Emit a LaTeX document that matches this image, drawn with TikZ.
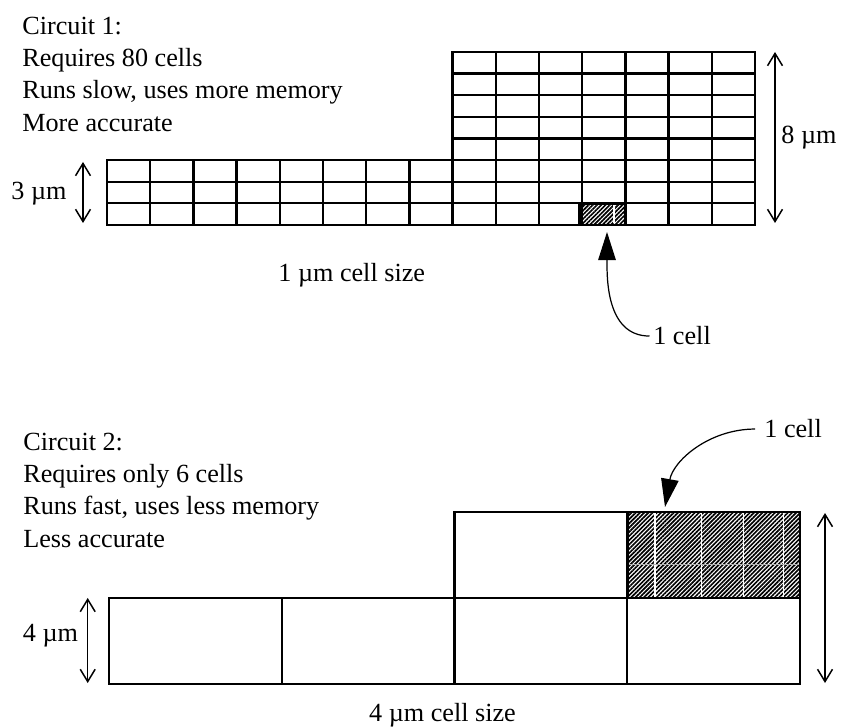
\documentclass[tikz,border=0pt]{standalone}
\usepackage{fontspec}
\setmainfont{Liberation Serif}
\usetikzlibrary{arrows.meta,patterns.meta}

\begin{document}
\begin{tikzpicture}[x=0.02cm,y=0.02cm,
    every node/.style={font=\fontsize{14.9}{18.3}\selectfont,inner sep=0pt},
    gridline/.style={line width=1.3pt,line cap=rect},
    hatched/.style={pattern={Lines[angle=45,distance=1.7pt,line width=0.95pt]}},
    dim/.style={{Straight Barb[length=7pt,width=8.5pt]}-{Straight Barb[length=7pt,width=8.5pt]},line width=0.85pt},
    callout/.style={-{Triangle[length=16pt,width=10pt]},line width=0.7pt}]
  \useasboundingbox (0,0) rectangle (844,726);

  % circuit 1: fine cells, 43.2 x 21.65
  \foreach \r in {0,...,3} {\draw[gridline] (107,501+\r*21.65) -- (755,501+\r*21.65);}
  \foreach \r in {4,...,8} {\draw[gridline] (452.6,501+\r*21.65) -- (755,501+\r*21.65);}
  \foreach \c in {0,...,7} {\draw[gridline] (107+\c*43.2,501) -- (107+\c*43.2,566);}
  \foreach \c in {8,...,15} {\draw[gridline] (107+\c*43.2,501) -- (107+\c*43.2,674.2);}
  \path[hatched] (579.3,501) rectangle (625.7,522.6);
  \draw[white,line width=0.6pt] (614,502.5) -- (614,521);
  \draw[line width=1.5pt] (579.3,501) rectangle (625.7,522.6);
  \coordinate (tip1) at (607,494);

  \coordinate (d1a) at (83,564);   \coordinate (d1b) at (83,503);
  \coordinate (d2a) at (775,674);  \coordinate (d2b) at (775,503);
  \draw[dim] (d1a) -- (d1b);
  \draw[dim] (d2a) -- (d2b);
  \node[anchor=base] (h1) at (39,526) {3 µm};
  \node[anchor=base] (h2) at (809,582.7) {8 µm};

  \node[anchor=north west,align=left] (note1) at (22,709)
    {Circuit 1:\\Requires 80 cells\\Runs slow, uses more memory\\More accurate};
  \node[anchor=base] (size1) at (351.7,444.3) {1 µm cell size};
  \node[anchor=base west] (cell1) at (653,381) {1 cell};
  \draw[callout] ([xshift=-2pt]cell1.west) to[out=180,in=-90] (tip1);

  % circuit 2: coarse cells, 172.75 x 86
  \foreach \r in {0,1} {\draw[gridline] (109,42+\r*86) -- (800,42+\r*86);}
  \draw[gridline] (454.5,214) -- (800,214);
  \foreach \c in {0,1} {\draw[gridline] (109+\c*172.75,42) -- (109+\c*172.75,128);}
  \foreach \c in {2,3,4} {\draw[gridline] (109+\c*172.75,42) -- (109+\c*172.75,214);}
  \path[hatched] (627.25,128) rectangle (800,214);
  \foreach \xx in {655,701.7,743.3,783.3} {\draw[white,line width=0.7pt] (\xx,129) -- (\xx,213);}
  \draw[gray!60,line width=0.25pt] (628,162) -- (799,162);
  \draw[line width=1.5pt] (627.25,128) rectangle (800,214);
  \coordinate (tip2) at (665,219);

  \coordinate (d3a) at (87.7,128); \coordinate (d3b) at (87.7,43);
  \coordinate (d4a) at (825,213);  \coordinate (d4b) at (825,43);
  \draw[dim] (d3a) -- (d3b);
  \draw[dim] (d4a) -- (d4b);
  \node[anchor=base] (h3) at (50.5,84.3) {4 µm};

  \node[anchor=north west,align=left] (note2) at (23,293)
    {Circuit 2:\\Requires only 6 cells\\Runs fast, uses less memory\\Less accurate};
  \node[anchor=base] (size2) at (442.5,4.3) {4 µm cell size};
  \node[anchor=base west] (cell2) at (764,288) {1 cell};
  \draw[callout] ([xshift=-5pt]cell2.west) to[out=180,in=80] (tip2);
\end{tikzpicture}
\end{document}
